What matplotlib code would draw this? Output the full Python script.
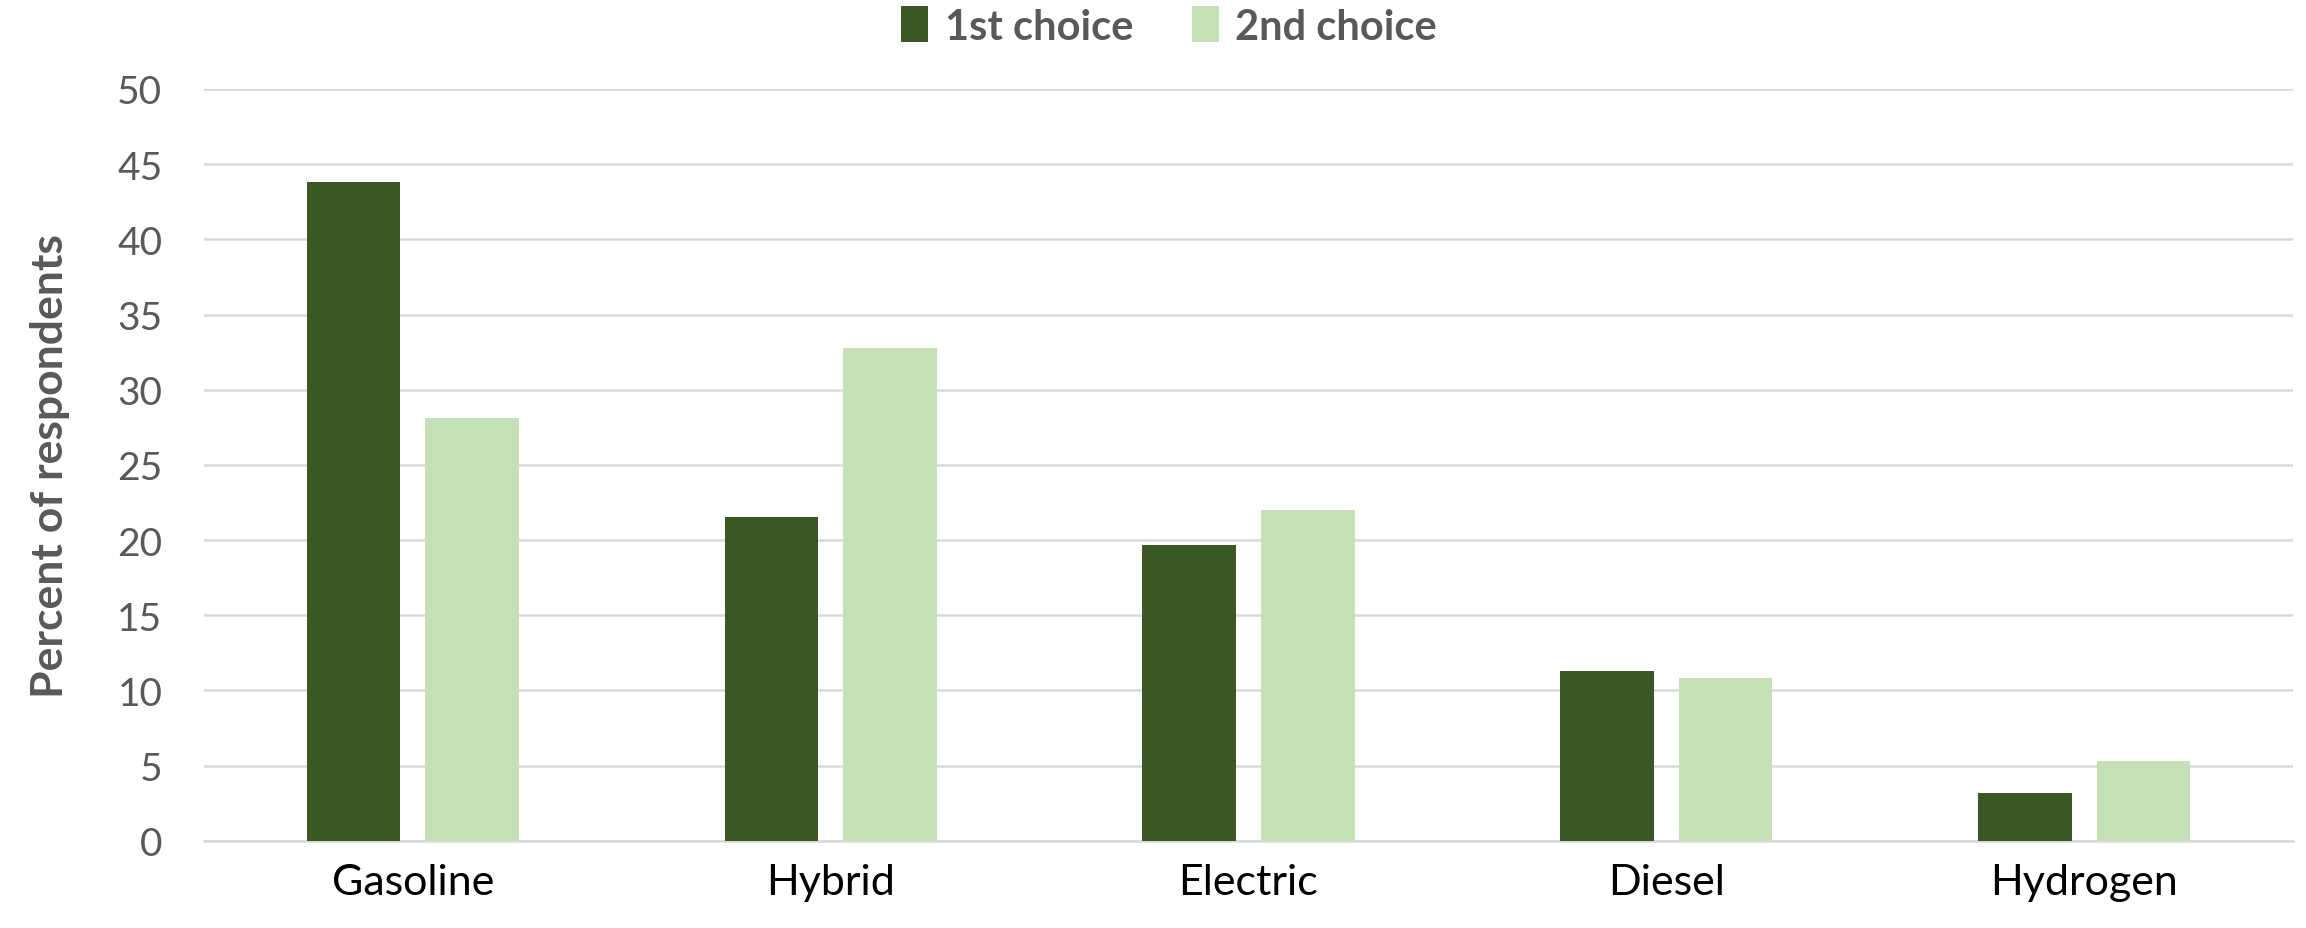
import matplotlib
matplotlib.use("Agg")
import matplotlib.pyplot as plt
import numpy as np

# Vehicle fuel preference, percent of respondents
fuels = ["Gasoline", "Hybrid", "Electric", "Diesel", "Hydrogen"]
first_choice = [43.8, 21.5, 19.7, 11.3, 3.2]
second_choice = [28.1, 32.8, 22.0, 10.8, 5.3]

dark_green = "#3A5724"
light_green = "#C5E0B4"
grey_text = "#595959"
grid_col = "#D9D9D9"

plt.rcParams["font.family"] = ["Lato", "DejaVu Sans"]

fig = plt.figure(figsize=(23.06, 9.29), dpi=100)
ax = fig.add_axes([204 / 2306, 1 - 841.7 / 929, (2293 - 204) / 2306, (841.7 - 90) / 929])

x = np.arange(len(fuels))
w = 0.224
off = 0.142
b1 = ax.bar(x - off, first_choice, w, color=dark_green, label="1st choice", zorder=3)
b2 = ax.bar(x + off, second_choice, w, color=light_green, label="2nd choice", zorder=3)

ax.set_xlim(-0.5, len(fuels) - 0.5)
ax.set_ylim(0, 50)
ax.set_yticks(np.arange(0, 51, 5))
ax.yaxis.grid(True, color=grid_col, linewidth=1.8, zorder=0)
ax.set_axisbelow(True)
for s in ["top", "right", "left"]:
    ax.spines[s].set_visible(False)
ax.spines["bottom"].set_color(grid_col)
ax.spines["bottom"].set_linewidth(1.8)

ax.set_xticks(x)
ax.set_xticklabels(fuels, fontsize=31, color="black")
ax.tick_params(axis="x", length=0, pad=16)
ax.tick_params(axis="y", length=0, pad=30, labelsize=28, labelcolor=grey_text)

ax.set_ylabel("Percent of respondents", fontsize=32, fontweight="bold", color=grey_text, labelpad=34)

fig.legend(handles=[b1, b2], loc="center", bbox_to_anchor=(1169 / 2306, 1 - 27 / 929), ncol=2,
           frameon=False, prop={"size": 30, "weight": "bold"}, labelcolor=grey_text,
           handlelength=0.65, handleheight=0.95, handletextpad=0.4, columnspacing=1.4)

fig.savefig("out.png", dpi=100)
